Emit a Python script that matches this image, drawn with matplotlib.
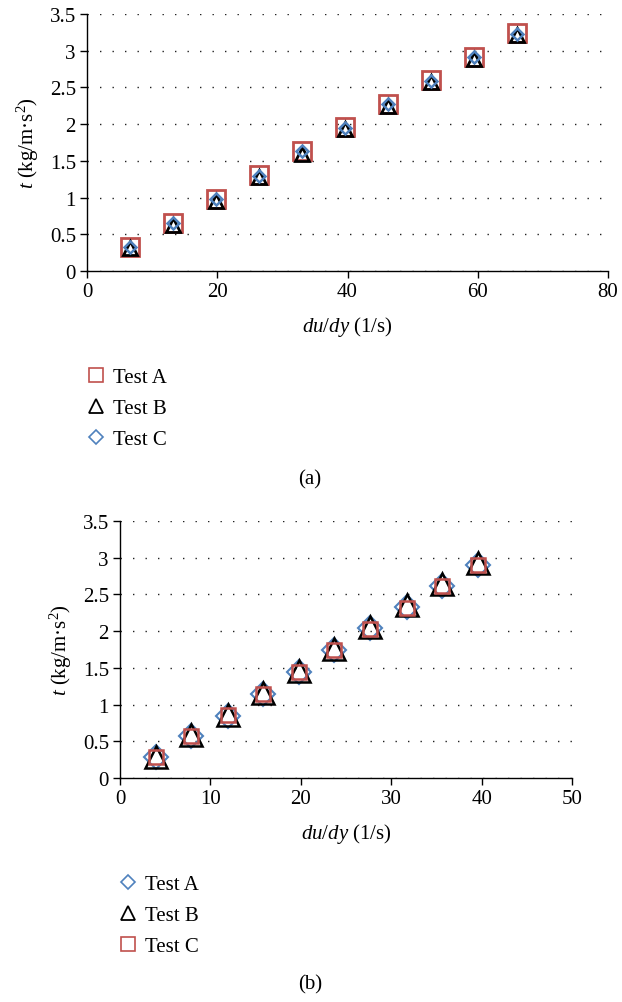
import matplotlib
matplotlib.use("Agg")
import matplotlib.pyplot as plt
from matplotlib.lines import Line2D

plt.rcParams['font.family'] = ['Liberation Serif', 'DejaVu Serif']
plt.rcParams['mathtext.fontset'] = 'custom'
plt.rcParams['mathtext.rm'] = 'Liberation Serif'
plt.rcParams['mathtext.it'] = 'Liberation Serif:italic'

# Panel (a)
xa = [6.6, 13.2, 19.8, 26.4, 33.0, 39.6, 46.2, 52.8, 59.4, 66.0]
a_testA = [0.33, 0.65, 0.98, 1.31, 1.63, 1.96, 2.28, 2.60, 2.92, 3.24]
a_testB = [0.31, 0.63, 0.96, 1.28, 1.60, 1.93, 2.25, 2.57, 2.89, 3.21]
a_testC = [0.33, 0.66, 0.98, 1.30, 1.63, 1.95, 2.27, 2.59, 2.92, 3.23]

# Panel (b)
xb = [3.95, 7.9, 11.9, 15.8, 19.8, 23.7, 27.7, 31.7, 35.6, 39.6]
b_testA = [0.29, 0.57, 0.85, 1.15, 1.44, 1.74, 2.04, 2.33, 2.62, 2.90]
b_testB = [0.28, 0.58, 0.86, 1.16, 1.46, 1.76, 2.05, 2.35, 2.64, 2.93]
b_testC = [0.28, 0.57, 0.86, 1.15, 1.44, 1.74, 2.03, 2.32, 2.62, 2.90]

labels = ['Test A', 'Test B', 'Test C']
RED = '#C0504D'
BLUE = '#4F81BD'
BLACK = '#000000'
FS = 15

fig = plt.figure(figsize=(6.22, 10.03), dpi=100)
W, H = 622, 1003

def axrect(l, r, t, b):
    return [l / W, 1 - b / H, (r - l) / W, (b - t) / H]

def style(ax, xmax, xstep):
    ax.set_xlim(0, xmax)
    ax.set_ylim(0, 3.5)
    ax.set_xticks(range(0, xmax + 1, xstep))
    ax.set_yticks([0, 0.5, 1, 1.5, 2, 2.5, 3, 3.5])
    ax.set_yticklabels(['0', '0.5', '1', '1.5', '2', '2.5', '3', '3.5'])
    for s in ['top', 'right']:
        ax.spines[s].set_visible(False)
    for s in ['left', 'bottom']:
        ax.spines[s].set_linewidth(1.0)
    ax.tick_params(direction='out', length=5, width=1.0, labelsize=FS, pad=3)
    ax.yaxis.grid(True, color='#222222', linewidth=1.0, linestyle=(0, (1, 8)))
    ax.set_axisbelow(True)
    ax.set_xlabel(r'$du/dy$ (1/s)', fontsize=FS, labelpad=9)
    ax.set_ylabel(r'$t$ (kg/m·s$^2$)', fontsize=FS, labelpad=6)

# Top axes
ax1 = fig.add_axes(axrect(87, 608, 15, 272))
ax1.plot(xa, a_testA, ls='none', marker='s', ms=12.5, mfc='none', mec=RED, mew=2.0, label=labels[0])
ax1.plot(xa, a_testB, ls='none', marker='^', ms=9.5, mfc='none', mec=BLACK, mew=2.0, label=labels[1])
ax1.plot(xa, a_testC, ls='none', marker='D', ms=6.5, mfc='none', mec=BLUE, mew=1.8, label=labels[2])
style(ax1, 80, 20)

# Bottom axes
ax2 = fig.add_axes(axrect(120, 572, 522, 779))
ax2.plot(xb, b_testA, ls='none', marker='D', ms=12.5, mfc='none', mec=BLUE, mew=1.5, label=labels[0])
ax2.plot(xb, b_testB, ls='none', marker='^', ms=16, mfc='none', mec=BLACK, mew=1.8, label=labels[1])
ax2.plot(xb, b_testC, ls='none', marker='s', ms=10, mfc='none', mec=RED, mew=1.8, label=labels[2])
style(ax2, 50, 10)

# Legends
hA = [Line2D([], [], ls='none', marker='s', ms=10, mfc='none', mec=RED, mew=1.2),
      Line2D([], [], ls='none', marker='^', ms=10.5, mfc='none', mec=BLACK, mew=1.3),
      Line2D([], [], ls='none', marker='D', ms=7.5, mfc='none', mec=BLUE, mew=1.2)]
fig.legend(hA, labels, loc='upper left', bbox_to_anchor=(77 / W, 1 - 360 / H),
           frameon=False, fontsize=FS, handlelength=1.0, handletextpad=0.35,
           labelspacing=0.55, borderaxespad=0)

hB = [Line2D([], [], ls='none', marker='D', ms=7.5, mfc='none', mec=BLUE, mew=1.2),
      Line2D([], [], ls='none', marker='^', ms=10.5, mfc='none', mec=BLACK, mew=1.3),
      Line2D([], [], ls='none', marker='s', ms=10, mfc='none', mec=RED, mew=1.2)]
fig.legend(hB, labels, loc='upper left', bbox_to_anchor=(109 / W, 1 - 867 / H),
           frameon=False, fontsize=FS, handlelength=1.0, handletextpad=0.35,
           labelspacing=0.55, borderaxespad=0)

fig.text(310 / W, 1 - 480 / H, '(a)', ha='center', va='center', fontsize=FS)
fig.text(310 / W, 1 - 985 / H, '(b)', ha='center', va='center', fontsize=FS)

fig.savefig('out.png', dpi=100)
